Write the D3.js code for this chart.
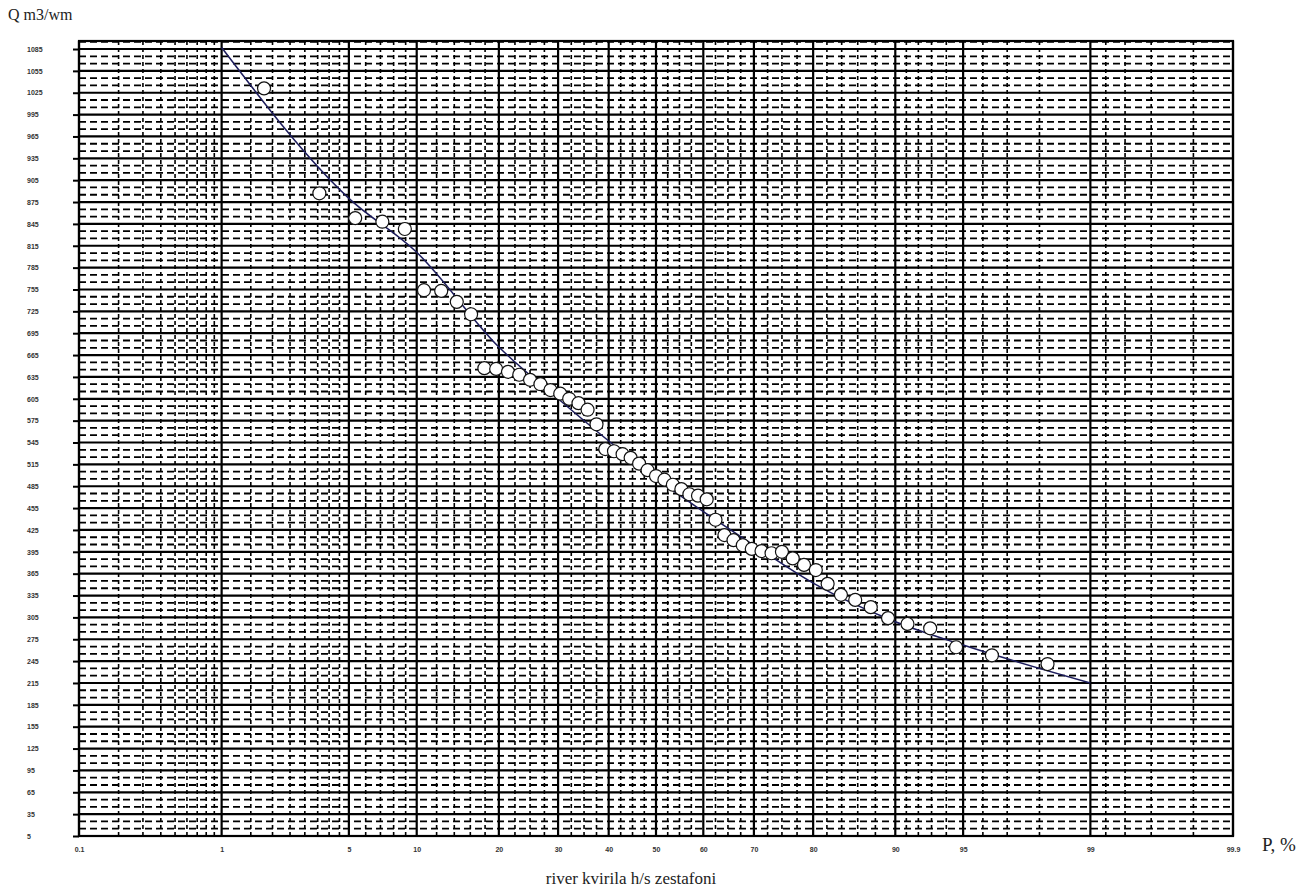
<!DOCTYPE html>
<html>
<head>
<meta charset="utf-8">
<script src="https://cdn.jsdelivr.net/npm/d3@7"></script>
<style>
  body { margin: 0; background: #fff; }
  svg { display: block; }
  .tick text { font-family: "Liberation Sans", Arial, sans-serif; font-size: 7px; fill: #333; font-weight: bold; }
  .lbl { font-family: "Liberation Serif", "Times New Roman", serif; fill: #222; }
</style>
</head>
<body>
<div id="chart"></div>
<script>
// ticks on the probability axis (%)
const xTicks = [0.1, 1, 5, 10, 20, 30, 40, 50, 60, 70, 80, 90, 95, 99, 99.9];
const xMinor = [0.2, 0.3, 0.4, 0.5, 0.6, 0.7, 0.8, 0.9, 1.5, 2, 2.5, 3, 3.5, 4, 4.5,
  6, 7, 8, 9, 12, 14, 16, 18, 22.5, 25, 27.5, 32.5, 35, 37.5, 42.5, 45, 47.5,
  52.5, 55, 57.5, 62.5, 65, 67.5, 72.5, 75, 77.5, 82, 84, 86, 88, 91, 92, 93, 94,
  96, 97, 98, 99.2, 99.4, 99.6, 99.8];
const yTicks = d3.range(5, 1086, 30);

// observed discharges (sorted) and their exceedance probability
const obsP = [1.79, 3.57, 5.36, 7.14, 8.93, 10.7, 12.5, 14.3, 16.1, 17.9, 19.6, 21.4,
  23.2, 25.0, 26.8, 28.6, 30.4, 32.1, 33.9, 35.7, 37.5, 39.3, 41.1, 42.9, 44.6,
  46.4, 48.2, 50.0, 51.8, 53.6, 55.4, 57.1, 58.9, 60.7, 62.5, 64.3, 66.1, 67.9,
  69.6, 71.4, 73.2, 75.0, 76.8, 78.6, 80.4, 82.1, 83.9, 85.7, 87.5, 89.3, 91.1,
  92.9, 94.6, 96.4, 98.2];
const obsQ = [1031, 887, 853, 848, 838, 754, 753, 738, 721, 647, 646, 642, 638, 631,
  625, 617, 612, 605, 599, 590, 570, 536, 533, 529, 524, 516, 507, 499, 494, 487,
  481, 474, 472, 467, 439, 418, 411, 404, 399, 396, 393, 395, 386, 377, 370, 351,
  336, 329, 319, 304, 296, 290, 264, 253, 241];

// fitted supply curve
const curveP = [1, 5, 10, 20, 30, 50, 70, 80, 90, 95, 99];
const curveQ = [1087, 880, 806, 676, 605, 496, 404, 352, 299, 267, 215];

const W = 1304, H = 893;
const m = { left: 79, right: 1233, top: 41, bottom: 836 };

// inverse normal cdf (Acklam)
function probit(p) {
  const a = [-39.69683028665376, 220.9460984245205, -275.9285104469687, 138.3577518672690, -30.66479806614716, 2.506628277459239];
  const b = [-54.47609879822406, 161.5858368580409, -155.6989798598866, 66.80131188771972, -13.28068155288572];
  const c = [-0.007784894002430293, -0.3223964580411365, -2.400758277161838, -2.549732539343734, 4.374664141464968, 2.938163982698783];
  const d = [0.007784695709041462, 0.3224671290700398, 2.445134137142996, 3.754408661907416];
  const pl = 0.02425;
  let q, r;
  if (p < pl) {
    q = Math.sqrt(-2 * Math.log(p));
    return (((((c[0]*q+c[1])*q+c[2])*q+c[3])*q+c[4])*q+c[5]) / ((((d[0]*q+d[1])*q+d[2])*q+d[3])*q+1);
  } else if (p <= 1 - pl) {
    q = p - 0.5; r = q * q;
    return (((((a[0]*r+a[1])*r+a[2])*r+a[3])*r+a[4])*r+a[5])*q / (((((b[0]*r+b[1])*r+b[2])*r+b[3])*r+b[4])*r+1);
  } else {
    q = Math.sqrt(-2 * Math.log(1 - p));
    return -(((((c[0]*q+c[1])*q+c[2])*q+c[3])*q+c[4])*q+c[5]) / ((((d[0]*q+d[1])*q+d[2])*q+d[3])*q+1);
  }
}

const zScale = d3.scaleLinear().domain([probit(0.001), probit(0.999)]).range([m.left, m.right]);
const x = p => zScale(probit(p / 100));
const y = d3.scaleLinear().domain([5, 1096]).range([m.bottom, m.top]);

const svg = d3.select("#chart").append("svg").attr("width", W).attr("height", H);

// minor grid
const grid = svg.append("g");
const yMinor = d3.range(5, 1096, 10).filter(v => (v - 5) % 30 !== 0);
grid.selectAll(".hmin").data(yMinor).join("line")
  .attr("x1", m.left).attr("x2", m.right)
  .attr("y1", d => y(d)).attr("y2", d => y(d))
  .attr("stroke", "#000").attr("stroke-width", 1.8)
  .attr("stroke-dasharray", "7,4");
grid.selectAll(".vmin").data(xMinor).join("line")
  .attr("x1", d => x(d)).attr("x2", d => x(d))
  .attr("y1", m.top).attr("y2", m.bottom)
  .attr("stroke", "#000").attr("stroke-width", 1.6)
  .attr("stroke-dasharray", "4,3");

// major grid
grid.selectAll(".hmaj").data(yTicks).join("line")
  .attr("x1", m.left).attr("x2", m.right)
  .attr("y1", d => y(d)).attr("y2", d => y(d))
  .attr("stroke", "#000").attr("stroke-width", 2.2);
grid.selectAll(".vmaj").data(xTicks).join("line")
  .attr("x1", d => x(d)).attr("x2", d => x(d))
  .attr("y1", m.top).attr("y2", m.bottom)
  .attr("stroke", "#000").attr("stroke-width", 2.2);

svg.append("rect")
  .attr("x", m.left).attr("y", m.top)
  .attr("width", m.right - m.left).attr("height", m.bottom - m.top)
  .attr("fill", "none").attr("stroke", "#000").attr("stroke-width", 2.2);

// axes
const yAxis = svg.append("g")
  .attr("transform", `translate(${m.left},0)`)
  .call(d3.axisLeft(y).tickValues(yTicks).tickFormat(d3.format("d")).tickSize(6));
yAxis.select(".domain").remove();
yAxis.selectAll(".tick line").attr("stroke", "#000").attr("stroke-width", 2);
yAxis.selectAll(".tick text").attr("text-anchor", "start").attr("x", -52);

const xAxis = svg.append("g")
  .attr("transform", `translate(0,${m.bottom})`)
  .call(d3.axisBottom(zScale).tickValues(xTicks.map(p => probit(p / 100)))
    .tickFormat((d, i) => xTicks[i]).tickSize(0).tickPadding(11));
xAxis.select(".domain").remove();

// fitted curve
svg.append("path")
  .datum(curveP.map((p, i) => [x(p), y(curveQ[i])]))
  .attr("d", d3.line().curve(d3.curveMonotoneX))
  .attr("fill", "none")
  .attr("stroke", "#1c1c5c")
  .attr("stroke-width", 1.5);

// observations
svg.selectAll(".obs").data(obsP).join("circle")
  .attr("cx", d => x(d))
  .attr("cy", (d, i) => y(obsQ[i]))
  .attr("r", 6.5)
  .attr("fill", "#fff")
  .attr("stroke", "#111")
  .attr("stroke-width", 1.2);

// labels
svg.append("text").attr("class", "lbl")
  .attr("x", 8).attr("y", 20).attr("font-size", 16).text("Q m3/wm");
svg.append("text").attr("class", "lbl")
  .attr("x", 1262).attr("y", 851).attr("font-size", 19).text("P, %");
svg.append("text").attr("class", "lbl")
  .attr("x", 631).attr("y", 884).attr("text-anchor", "middle")
  .attr("font-size", 17).text("river kvirila h/s zestafoni");
</script>
</body>
</html>
